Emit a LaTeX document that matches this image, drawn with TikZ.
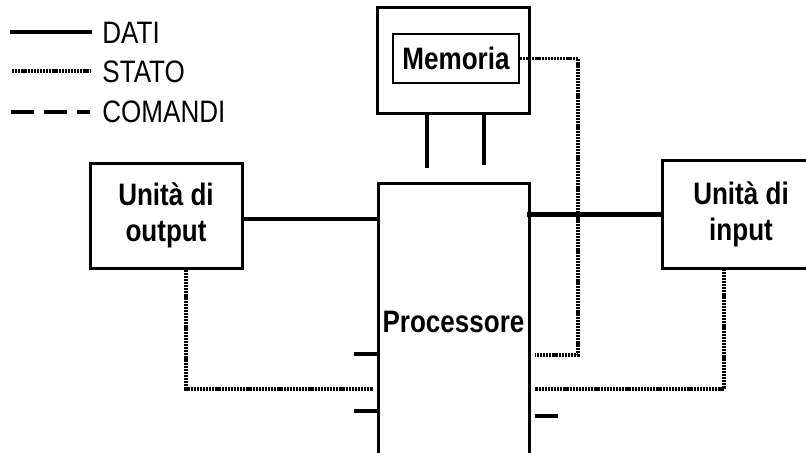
\documentclass[tikz,border=0pt]{standalone}
\usepackage{fontspec}
\setmainfont{Liberation Sans}[FakeStretch=0.84]
\usepackage{tikz}
\usetikzlibrary{positioning}

\begin{document}
\begin{tikzpicture}[
  x=0.5pt, y=-0.5pt,
  unit/.style={draw, line width=1.5pt, align=center, inner sep=0pt,
               font=\fontsize{15.5}{18}\selectfont\bfseries},
  lgd/.style={anchor=west, inner sep=0pt,
              font=\fontsize{15.5}{18}\selectfont},
  dati/.style={line width=1.6pt},
  stato/.style={line width=1.8pt, dash pattern=on 1.1pt off 0.45pt},
  comandi/.style={line width=2pt, dash pattern=on 11.5pt off 5pt}
]
  \useasboundingbox (0,0) rectangle (806,452);
  \clip (0,0) rectangle (806,452);

  % legenda
  \node[lgd] (tdati)    at (102,33)  {DATI};
  \node[lgd] (tstato)   at (102,72)  {STATO};
  \node[lgd] (tcomandi) at (102,112) {COMANDI};
  \coordinate (ldati)    at (10,32);
  \coordinate (lstato)   at (12,71);
  \coordinate (lcomandi) at (11,112);
  \draw[dati, line width=2pt] (ldati) -- ([xshift=-5pt]tdati.west |- ldati);
  \draw[stato]   (lstato)   -- ([xshift=-6pt]tstato.west |- lstato);
  \draw[comandi] (lcomandi) -- ([xshift=-6pt]tcomandi.west |- lcomandi);

  % blocchi
  \node[unit, minimum width=76pt, minimum height=53pt] (mem) at (453,60) {};
  \node[draw, line width=0.8pt, inner sep=0pt, minimum width=63pt,
        minimum height=24.5pt, font=\fontsize{15.5}{18}\selectfont\bfseries]
        (memin) at (456,58.5) {Memoria};
  \node[unit, minimum width=75.5pt, minimum height=138.5pt] (proc)
        at (453.5,321.5) {Processore};
  \node[unit, minimum width=76pt, minimum height=52.5pt] (out)
        at (166,215.5) {Unità di\\output};
  \node[unit, draw=none, minimum width=77pt, minimum height=52.5pt] (inp)
        at (741,214.5) {Unità di\\input};
  % lato destro fuori pagina
  \draw[line width=1.5pt] ([xshift=30pt]inp.north east) -- (inp.north west)
    -- (inp.south west) -- ([xshift=30pt]inp.south east);

  % dati
  \draw[dati] ([yshift=-1.75pt]out.east) -- ([yshift=-1.75pt]out.east -| proc.west);
  \draw[dati, line width=2.4pt] ([xshift=-2pt]proc.east |- inp.west) -- (inp.west);
  \draw[dati] ([xshift=-13pt]mem.south) -- ++(0,53);
  \draw[dati] ([xshift=15.5pt]mem.south) -- ++(0,50);

  % stato
  \coordinate (sr) at (578,355);
  \draw[stato] (memin.east) -| (sr) -- ([xshift=2pt]sr -| proc.east);
  \draw[stato] ([xshift=10pt]out.south) |- ([xshift=-2pt]proc.west |- 0,389);
  \draw[stato] ([xshift=-8.5pt]inp.south) |- ([xshift=2pt]proc.east |- 0,389);

  % comandi
  \draw[comandi] (proc.west |- 0,354) -- ++(-24,0);
  \draw[comandi] (proc.west |- 0,411) -- ++(-24,0);
  \draw[comandi] ([xshift=2pt]proc.east |- 0,416) -- ++(25,0);
\end{tikzpicture}
\end{document}
